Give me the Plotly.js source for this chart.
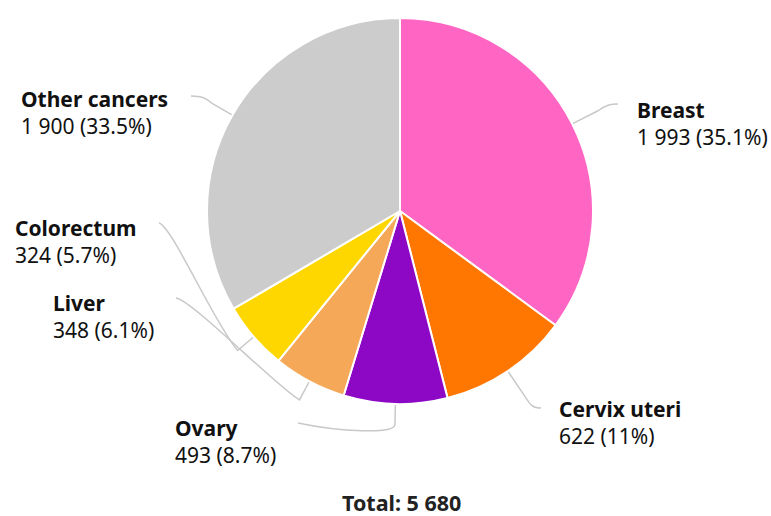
<!DOCTYPE html>
<html>
<head>
<meta charset="utf-8">
<script src="https://cdn.plot.ly/plotly-3.0.1.min.js"></script>
<style>html,body{margin:0;padding:0;background:#fff;}#chart{width:771px;height:516px;}</style>
</head>
<body>
<div id="chart"></div>
<script>
// Data
const categories = ["Breast", "Cervix uteri", "Ovary", "Liver", "Colorectum", "Other cancers"];
const values = [1993, 622, 493, 348, 324, 1900];
const colors = ["#ff66c4", "#ff7600", "#8c08c4", "#f4a858", "#ffd700", "#cccccc"];

// Layout for labels (pixel positions) and leader line controls
const W = 771, H = 516;
const CX = 400, CY = 211, R = 193;
const labelLayout = {
  "Breast":        {x: 638, y1: 110, elbowR: 222, c1: [606, 105], c2: [610, 104], end: [618, 104]},
  "Cervix uteri":  {x: 560, y1: 409, elbowR: 225, c1: [530, 404], c2: [532, 408], end: [541, 408]},
  "Ovary":         {x: 176, y1: 428, elbowR: 214, c1: [394, 434], c2: [340, 432], end: [298, 423]},
  "Liver":         {x: 54,  y1: 303, elbowR: 214, c1: [278, 388], c2: [192, 300], end: [176, 298]},
  "Colorectum":    {x: 16,  y1: 228, elbowR: 214, c1: [215, 325], c2: [172, 226], end: [159, 223]},
  "Other cancers": {x: 22,  y1: 99,  elbowR: 216, c1: [206, 98],  c2: [202, 96],  end: [191, 96]}
};

const total = values.reduce((a, b) => a + b, 0);
const fmtNum = n => String(n).replace(/\B(?=(\d{3})+(?!\d))/g, " ");
const fmtPct = v => {
  let p = Math.round(v / total * 1000) / 10;
  return (Number.isInteger(p) ? p.toFixed(0) : p.toFixed(1)) + "%";
};
const px = x => x / W;
const py = y => 1 - y / H;

const annotations = [];
const shapes = [];
let cum = 0;
categories.forEach((c, i) => {
  const mid = (cum + values[i] / 2) / total * 2 * Math.PI;
  cum += values[i];
  const L = labelLayout[c];
  const dx = Math.sin(mid), dy = -Math.cos(mid);
  const e = [CX + dx * (R + 1), CY + dy * (R + 1)];
  const el = [CX + dx * L.elbowR, CY + dy * L.elbowR];
  const P = p => px(p[0]).toFixed(5) + "," + py(p[1]).toFixed(5);
  shapes.push({
    type: "path", xref: "paper", yref: "paper",
    path: "M" + P(e) + " L" + P(el) + " C" + P(L.c1) + " " + P(L.c2) + " " + P(L.end),
    line: {color: "#c8c8c8", width: 1.5}
  });
  annotations.push({
    xref: "paper", yref: "paper", x: px(L.x - 3), y: py(L.y1), xanchor: "left", yanchor: "middle",
    text: "<b>" + c + "</b>", showarrow: false,
    font: {family: "Noto Sans", size: 21, color: "#111111"}
  });
  annotations.push({
    xref: "paper", yref: "paper", x: px(L.x - 3), y: py(L.y1 + 27), xanchor: "left", yanchor: "middle",
    text: fmtNum(values[i]) + " (" + fmtPct(values[i]) + ")", showarrow: false,
    font: {family: "Noto Sans", size: 21, color: "#111111"}
  });
});
annotations.push({
  xref: "paper", yref: "paper", x: px(401), y: py(502), xanchor: "center", yanchor: "middle",
  borderpad: 0,
  text: "<b>Total: " + fmtNum(total) + "</b>", showarrow: false,
  font: {family: "Noto Sans", size: 21.5, color: "#222222"}
});

const data = [{
  type: "pie",
  labels: categories,
  values: values,
  sort: false,
  direction: "clockwise",
  rotation: 0,
  textinfo: "none",
  hoverinfo: "label+value+percent",
  marker: {colors: colors, line: {color: "#ffffff", width: 2}},
  domain: {x: [px(CX - R), px(CX + R)], y: [py(CY + R), py(CY - R)]}
}];

const layout = {
  width: W, height: H,
  margin: {l: 0, r: 0, t: 0, b: 0},
  showlegend: false,
  paper_bgcolor: "#ffffff",
  font: {family: "Noto Sans"},
  annotations: annotations,
  shapes: shapes
};

Plotly.newPlot("chart", data, layout, {displayModeBar: false, staticPlot: true});
</script>
</body>
</html>
